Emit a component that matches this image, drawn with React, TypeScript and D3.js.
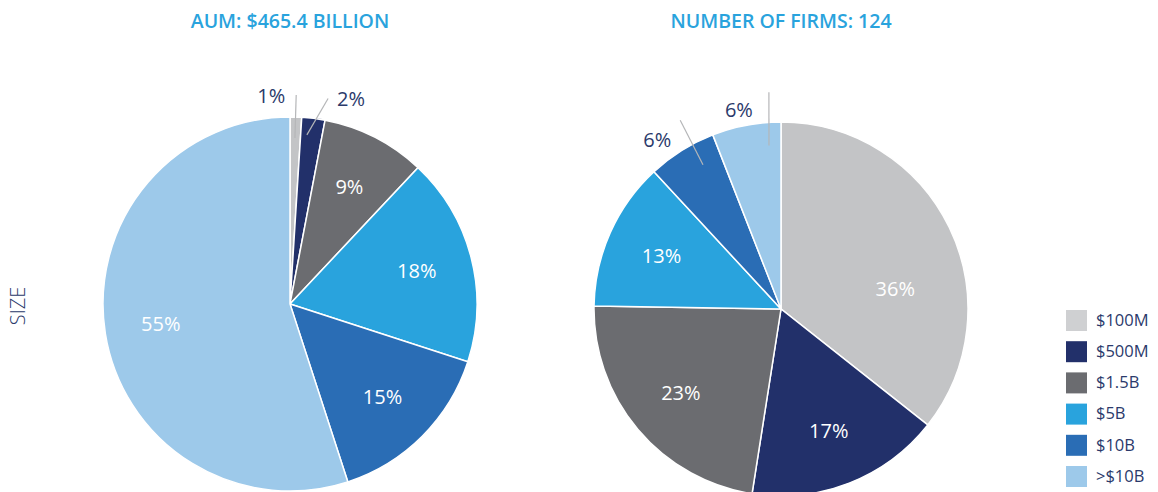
import React from 'react';
import * as d3 from 'd3';

// size buckets and the two breakdowns
const categories = ['$100M', '$500M', '$1.5B', '$5B', '$10B', '>$10B'];
const aumShare = [1, 2, 9, 18, 15, 55];
const firmShare = [36, 17, 23, 13, 6, 6];
const titles = ['AUM: $465.4 BILLION', 'NUMBER OF FIRMS: 124'];

const colors = ['#c3c4c6', '#22306a', '#6b6c70', '#29a3dd', '#2a6db5', '#9dc9ea'];
const navy = '#2b3a6b';
const FONT = '"Open Sans", "Noto Sans", sans-serif';

const W = 1158;
const H = 492;
const R = 187;

// leader lines for the small slices: angles in degrees, radii in px, text offset from outer end
const leaders = [
  [
    { i: 0, a0: 1.7, r0: 166, a1: 1.7, r1: 209, dx: -11, dy: 8, anchor: 'end' },
    { i: 1, a0: 5.7, r0: 170, a1: 10.5, r1: 209, dx: 9, dy: 7, anchor: 'start' },
  ],
  [
    { i: 4, a0: 331.6, r0: 164, a1: 331.9, r1: 214, dx: -9, dy: 27, anchor: 'end' },
    { i: 5, a0: -4.2, r0: 164, a1: -3.2, r1: 217, dx: -16, dy: 25, anchor: 'end' },
  ],
];
// inside label nudges (extra degrees, radius factor)
const nudges = [{}, { 0: [16, 0.62] }] as Record<number, number[]>[];

const polar = (deg: number, r: number) => {
  const a = (deg * Math.PI) / 180;
  return [r * Math.sin(a), -r * Math.cos(a)];
};

const Pie = ({ values, cx, cy, title, lead, nudge }: any) => {
  const pie = d3.pie<number>().sort(null).value(d => d);
  const arcs = pie(values);
  const arc = d3.arc<d3.PieArcDatum<number>>().innerRadius(0).outerRadius(R);
  const outside = new Set(lead.map((l: any) => l.i));

  return (
    <g>
      <text x={cx} y={28} textAnchor="middle" fill="#29a3dd" fontSize={19.5} fontWeight={600} fontFamily={FONT}>
        {title}
      </text>
      <g transform={`translate(${cx},${cy})`}>
        {arcs.map((a, i) => (
          <path key={i} d={arc(a) || ''} fill={colors[i]} stroke="#fff" strokeWidth={1.5} />
        ))}
        {arcs.map((a, i) => {
          if (outside.has(i)) return null;
          const [extra, k] = nudge[i] || [0, 0.7];
          const mid = ((a.startAngle + a.endAngle) / 2) * (180 / Math.PI) + extra;
          const [x, y] = polar(mid, R * k);
          return (
            <text key={'l' + i} x={x} y={y} dy="0.35em" textAnchor="middle" fill="#fff" fontSize={20} fontFamily={FONT}>
              {values[i]}%
            </text>
          );
        })}
        {lead.map((l: any) => {
          const [x0, y0] = polar(l.a0, l.r0);
          const [x1, y1] = polar(l.a1, l.r1);
          return (
            <g key={'o' + l.i}>
              <line x1={x0} y1={y0} x2={x1} y2={y1} stroke="#b5b6b8" strokeWidth={1.2} />
              <text x={x1 + l.dx} y={y1 + l.dy} textAnchor={l.anchor} fill={navy} fontSize={20} fontFamily={FONT}>
                {values[l.i]}%
              </text>
            </g>
          );
        })}
      </g>
    </g>
  );
};

export default function App() {
  const legendY = d3.scalePoint<string>().domain(categories).range([320, 476]);
  return (
    <svg width={W} height={H} style={{ position: 'absolute', left: 0, top: 0 }}>
      <rect width={W} height={H} fill="#fff" />
      <text
        transform="translate(25,306) rotate(-90)"
        textAnchor="middle"
        fill={navy}
        fontSize={20}
        fontWeight={300}
        fontFamily={FONT}
      >
        SIZE
      </text>
      <Pie values={aumShare} cx={290} cy={304} title={titles[0]} lead={leaders[0]} nudge={nudges[0]} />
      <Pie values={firmShare} cx={781} cy={309} title={titles[1]} lead={leaders[1]} nudge={nudges[1]} />
      <g>
        {categories.map((c, i) => (
          <g key={c} transform={`translate(1066,${legendY(c)})`}>
            <rect x={0} y={-10} width={21} height={21} fill={i === 0 ? '#cfd0d2' : colors[i]} />
            <text x={30} y={0} dy="0.35em" fill={navy} fontSize={16.5} fontFamily={FONT}>
              {c}
            </text>
          </g>
        ))}
      </g>
    </svg>
  );
}
